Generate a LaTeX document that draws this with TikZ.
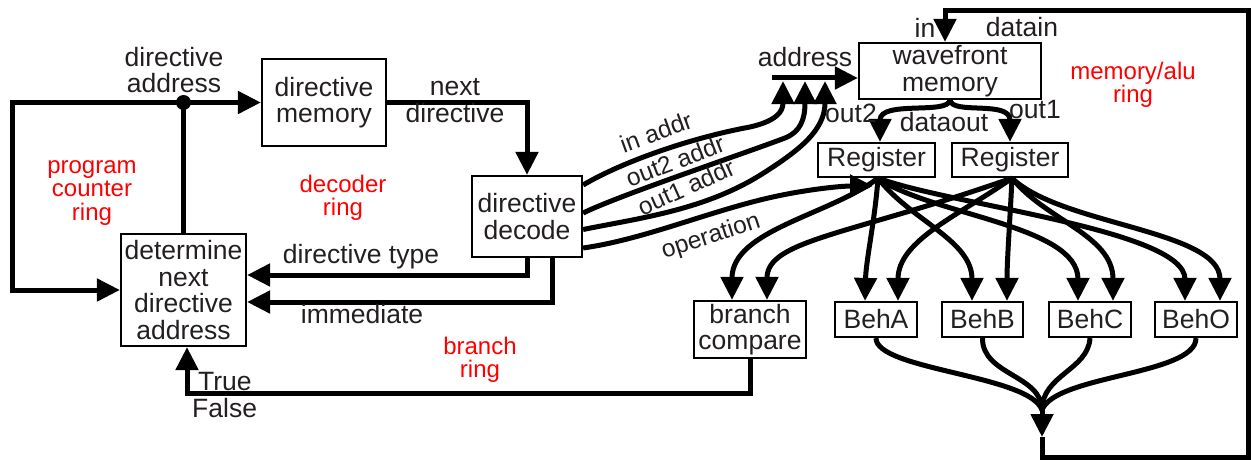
\documentclass[tikz,border=0pt]{standalone}
\usepackage{fontspec}
\setmainfont{Liberation Sans}
\usetikzlibrary{arrows.meta}
\definecolor{ink}{RGB}{35,31,32}
\definecolor{ringred}{RGB}{255,0,0}
\begin{document}
\begin{tikzpicture}[x=1pt,y=-1pt,
  font=\fontsize{26.5}{26.7}\selectfont,
  box/.style={draw=black, line width=2.2pt, inner sep=0pt, align=center, text=ink},
  wire/.style={draw=black, line width=5pt},
  arr/.style={wire, -{Triangle[length=23pt,width=22pt]}},
  lbl/.style={inner sep=0pt, align=center, text=ink},
  rlbl/.style={lbl, font=\fontsize{24.5}{25}\selectfont},
  ring/.style={inner sep=0pt, align=center, text=ringred, font=\fontsize{24}{23.5}\selectfont},
]
\useasboundingbox (0,0) rectangle (1253,460);

% boxes
\node[box, minimum width=124pt, minimum height=87pt] (dmem) at (324,102.5) {directive\\memory};
\node[box, minimum width=182pt, minimum height=56pt] (wf) at (950,71) {wavefront\\memory};
\node[box, minimum width=117pt, minimum height=34pt] (reg1) at (876.5,160) {Register};
\node[box, minimum width=116pt, minimum height=34pt] (reg2) at (1010,160) {Register};
\node[box, minimum width=110pt, minimum height=81pt] (dec) at (527,216.5) {directive\\decode};
\node[box, minimum width=125pt, minimum height=112pt] (det) at (183.5,290) {determine\\next\\directive\\address};
\node[box, minimum width=112pt, minimum height=57pt] (bc) at (750,329.5) {branch\\compare};
\node[box, minimum width=82pt, minimum height=35pt] (behA) at (876,319.5) {BehA};
\node[box, minimum width=81pt, minimum height=35pt] (behB) at (982.5,319.5) {BehB};
\node[box, minimum width=82pt, minimum height=35pt] (behC) at (1090,319.5) {BehC};
\node[box, minimum width=82pt, minimum height=35pt] (behO) at (1196,319.5) {BehO};

% program counter ring
\coordinate (dot) at (det.north |- dmem.west);
\draw[wire] (det.north) -- (dot);
\draw[arr] (dot) -- (dmem.west);
\draw[arr] (dot) -- (12,102.5) -- (12,290) -- (det.west);
\fill[black] (dot) circle (7.5pt);

% decoder ring
\draw[arr] (dmem.east) -| (dec.north);
\coordinate (dt) at (527,275);
\draw[arr] (dec.south) -- (dt) -- (det.east |- dt);
\coordinate (im) at (552,302);
\draw[arr] (dec.south -| im) -- (im) -- (det.east |- im);

% branch ring
\coordinate (br) at (750,393);
\draw[arr] (bc.south) -- (br) -- ([xshift=3.5pt]det.south |- br) -- ([xshift=3.5pt]det.south);

% address
\coordinate (addrL) at (772,78);
\draw[arr] (addrL) -- (wf.west |- addrL);
\coordinate (a1) at (783,81);
\coordinate (a2) at (805,81);
\coordinate (a3) at (825,81);
\coordinate (opT) at (873,186);
\draw[arr] ([yshift=31.5pt]dec.east) .. controls (622,162) and (690,138) .. (750,127)
                                     .. controls (776,121) and (783,112) .. (a1);
\draw[arr] ([yshift=3.5pt]dec.east) .. controls (620,195) and (740,155) .. (785,138)
                                    .. controls (800,132) and (805,120) .. (a2);
\draw[arr] ([yshift=-13pt]dec.east) .. controls (640,218) and (705,210) .. (762,174)
                                    .. controls (800,150) and (825,130) .. (a3);
\draw[arr] ([yshift=-31.5pt]dec.east) .. controls (640,240) and (700,215) .. (760,200)
                                      .. controls (800,190) and (840,186) .. (opT);

% dataout
\draw[arr] (wf.south) .. controls (948,115) and (880,100) .. ([xshift=3.5pt]reg1.north);
\draw[arr] (wf.south) .. controls (952,115) and (1010,100) .. (reg2.north);

% fan from registers
\coordinate (R1) at ([xshift=1.5pt]reg1.south);
\coordinate (R2) at ([xshift=2pt]reg2.south);
\draw[arr] (R1) .. controls (830,215) and (732,230) .. ([xshift=-18pt]bc.north);
\draw[arr] (R2) .. controls (850,235) and (767,240) .. ([xshift=17pt]bc.north);
\draw[arr] (R1) .. controls (875,220) and (866,260) .. ([xshift=-11pt]behA.north);
\draw[arr] (R2) .. controls (960,215) and (898,240) .. ([xshift=22pt]behA.north);
\draw[arr] (R1) .. controls (910,220) and (972,240) .. ([xshift=-10.5pt]behB.north);
\draw[arr] (R2) .. controls (1010,220) and (1007,260) .. ([xshift=24.5pt]behB.north);
\draw[arr] (R1) .. controls (930,215) and (1078,225) .. ([xshift=-12pt]behC.north);
\draw[arr] (R2) .. controls (1045,220) and (1113,235) .. ([xshift=23pt]behC.north);
\draw[arr] (R1) .. controls (950,205) and (1185,230) .. ([xshift=-11pt]behO.north);
\draw[arr] (R2) .. controls (1060,225) and (1220,230) .. ([xshift=24pt]behO.north);

% merge
\coordinate (M) at (1042,410);
\coordinate (Mt) at (1042,437);
\draw[wire] (behA.south) .. controls (876,370) and (1030,375) .. (M);
\draw[wire] (behB.south) .. controls (982,375) and (1042,375) .. (M);
\draw[wire] (behC.south) .. controls (1088,370) and (1042,375) .. (M);
\draw[wire] (behO.south) .. controls (1196,375) and (1055,375) .. (M);
\draw[arr] (M) -- (Mt);
\draw[arr] (Mt) -- (1042,457) -- (1248,457) -- (1248,11) -- ([xshift=-5pt]wf.north |- 0,11) -- ([xshift=-5pt]wf.north);

% labels
\node[lbl] (l1) at (174,70) {directive\\address};
\node[lbl] (l2) at (455,100.5) {next\\directive};
\node[lbl] (l3) at (361,257) {directive type};
\node[lbl] (l4) at (362,314) {immediate};
\node[lbl, anchor=west] (l5) at (198,382) {True};
\node[lbl, anchor=west] (l6) at (192,408) {False};
\node[rlbl, rotate=20] (l7) at (656,132) {in addr};
\node[rlbl, rotate=21] (l8) at (675,161) {out2 addr};
\node[rlbl, rotate=24] (l9) at (686,187) {out1 addr};
\node[rlbl, rotate=18] (l10) at (711,237) {operation};
\node[lbl] (l11) at (805,57) {address};
\node[lbl] (l12) at (925,28) {in};
\node[lbl] (l13) at (1022,27) {datain};
\node[lbl] (l14) at (851,113) {out2};
\node[lbl] (l15) at (1035,110) {out1};
\node[lbl] (l16) at (944,122) {dataout};

\node[ring] (r1) at (92,193) {program\\counter\\ring};
\node[ring] (r2) at (343,198) {decoder\\ring};
\node[ring] (r3) at (480,360) {branch\\ring};
\node[ring] (r4) at (1133,85) {memory/alu\\ring};
\end{tikzpicture}
\end{document}
